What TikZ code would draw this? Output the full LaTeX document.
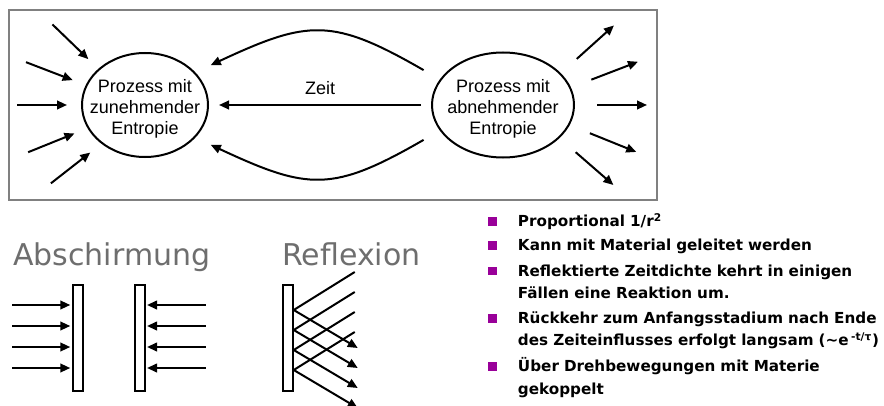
\documentclass[tikz,border=0pt]{standalone}
\usepackage{fontspec}
\usepackage{tikz}
\usetikzlibrary{arrows.meta,shapes.geometric}
\newfontfamily\arialfont{Liberation Sans}
\newfontfamily\verdfont{DejaVu Sans}
\definecolor{rahmengrau}{RGB}{128,128,128}
\definecolor{titelgrau}{RGB}{110,110,110}
\definecolor{lila}{RGB}{153,0,153}

\begin{document}
\begin{tikzpicture}[x=0.75pt, y=-0.75pt, >={Triangle[length=7.5pt,width=6.5pt]},
  pfeil/.style={line width=1.5pt},
  prozess/.style={ellipse, draw, line width=1.5pt, inner sep=0pt},
  prozesstext/.style={font=\arialfont\fontsize{13.5}{15.75}\selectfont, align=center, inner sep=0pt},
  platte/.style={draw, line width=1.1pt, minimum width=7.5pt, minimum height=79.5pt, inner sep=0pt},
  titel/.style={font=\verdfont\fontsize{22.5}{27}\selectfont, text=titelgrau, inner sep=0pt, anchor=base west},
  punkt/.style={fill=lila, minimum size=6.4pt, inner sep=0pt},
  eintrag/.style={font=\verdfont\bfseries\fontsize{11.4}{16.9}\selectfont, align=left, text width=300pt, inner sep=0pt, anchor=base west}]
  \pgfmathsetmacro{\pfeillaenge}{37.5}
  \pgfmathsetmacro{\linksabstand}{10.5}
  \pgfmathsetmacro{\rechtsabstand}{16.5}
  \useasboundingbox (0,0) rectangle (884,406);

  \draw[rahmengrau, line width=1.9pt] (9,10) rectangle (657,200);

  \node[prozess, minimum width=94.5pt, minimum height=78pt] (zunahme) at (145,105) {};
  \node[prozesstext] (zunahmetext) at (145,109) {Prozess mit\\zunehmender\\Entropie};
  \node[prozess, minimum width=106.5pt, minimum height=78.75pt] (abnahme) at (503,105) {};
  \node[prozesstext] (abnahmetext) at (503,109) {Prozess mit\\abnehmender\\Entropie};

  % Zeit
  \draw[pfeil, ->, shorten <=7.5pt, shorten >=7.5pt] (abnahme) -- node[above=7pt, inner sep=0pt, font=\arialfont\fontsize{13.5}{15.75}\selectfont] (zeit) {Zeit} (zunahme);
  \draw[pfeil, ->, shorten <=14pt, shorten >=12.75pt] (abnahme.158) to[out=150, in=25, looseness=1.3] (zunahme.33);
  \draw[pfeil, ->, shorten <=14pt, shorten >=12.75pt] (abnahme.202) to[out=210, in=-25, looseness=1.3] (zunahme.-33);

  \foreach \ang/\dir in {141/136, 161/159, 180/180, 202/202, 221/218}{
    \draw[pfeil, <-] (zunahme.\ang) ++(\ang:\linksabstand pt) -- ++(\dir:\pfeillaenge pt);
  };
  \foreach \ang/\dir in {32/42, 16/21, 0/0, -18/-22, -33/-41}{
    \draw[pfeil, ->] (abnahme.\ang) ++(\ang:\rechtsabstand pt) -- ++(\dir:\pfeillaenge pt);
  };

  \node[titel] (abschirmung) at (13,265) {Abschirmung};
  \node[titel] (reflexion) at (282,265) {Reflexion};

  \node[platte] (platte1) at (78,338) {};
  \node[platte] (platte2) at (140,338) {};
  \node[platte] (platte3) at (288,338) {};

  \foreach \dy in {24.75, 9, -6.75, -22.5}{
    \draw[pfeil, <-] ([xshift=-1.5pt, yshift=\dy pt]platte1.west) -- ++(-44pt,0pt);
    \draw[pfeil, <-] ([xshift=1pt, yshift=\dy pt]platte2.east) -- ++(44pt,0pt);
  };
  \foreach \dy in {21, 6, -9, -24}{
    \draw[pfeil] ([yshift=\dy pt]platte3.east) -- ++(45.75pt,28.5pt);
    \draw[pfeil, ->] ([yshift=\dy pt]platte3.east) -- ++(48pt,-28.5pt);
  };

  \node[eintrag] (eintrag1) at (517.7,226.7) {Proportional 1/r\textsuperscript{2}};
  \node[eintrag] (eintrag2) at (517.7,250.7) {Kann mit Material geleitet werden};
  \node[eintrag] (eintrag3) at (517.7,276) {Reflektierte Zeitdichte kehrt in einigen\\F\"allen eine Reaktion um.};
  \node[eintrag] (eintrag4) at (517.7,323.3) {R\"uckkehr zum Anfangsstadium nach Ende\\des Zeiteinflusses erfolgt langsam (\textasciitilde e\,\textsuperscript{-t/τ})};
  \node[eintrag] (eintrag5) at (517.7,371.7) {\"Uber Drehbewegungen mit Materie\\gekoppelt};
  \foreach \i in {1,...,5}{
    \node[punkt] (punkt\i) at ([xshift=-19pt, yshift=3.75pt]eintrag\i.base west) {};
  };
\end{tikzpicture}
\end{document}
